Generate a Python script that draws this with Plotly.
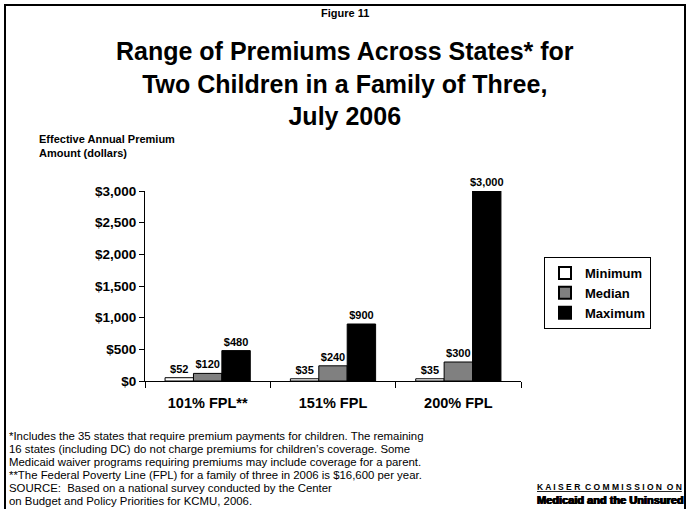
import plotly.graph_objects as go

# Premium levels by income (percent of the Federal Poverty Line)
categories = ["101% FPL**", "151% FPL", "200% FPL"]
minimum = [52, 35, 35]
median = [120, 240, 300]
maximum = [480, 900, 3000]
y_ticks = [0, 500, 1000, 1500, 2000, 2500, 3000]
y_tick_labels = ["$0", "$500", "$1,000", "$1,500", "$2,000", "$2,500", "$3,000"]

footnote_lines = [
    "*Includes the 35 states that require premium payments for children. The remaining",
    "16 states (including DC) do not charge premiums for children\u2019s coverage. Some",
    "Medicaid waiver programs requiring premiums may include coverage for a parent.",
    "**The Federal Poverty Line (FPL) for a family of three in 2006 is $16,600 per year.",
    "SOURCE:  Based on a national survey conducted by the Center",
    "on Budget and Policy Priorities for KCMU, 2006.",
]

W, H = 691, 509
ML, MR, MT, MB = 145, 170, 191, 128
PW, PH = W - ML - MR, H - MT - MB


def px_x(x):
    return (x - ML) / PW


def px_y(y):
    return (H - MB - y) / PH


SANS = "Liberation Sans, Arial, sans-serif"

series = [
    ("Minimum", minimum, "#ffffff"),
    ("Median", median, "#808080"),
    ("Maximum", maximum, "#000000"),
]

fig = go.Figure()
for name, vals, color in series:
    fig.add_trace(go.Bar(
        name=name,
        x=categories,
        y=vals,
        marker=dict(color=color, line=dict(color="#000000", width=1)),
        text=["$" + format(v, ",") for v in vals],
        textposition="outside",
        constraintext="none",
        textfont=dict(family=SANS, size=11, color="#000000", weight="bold"),
        cliponaxis=False,
    ))

fig.update_layout(
    width=W, height=H, autosize=False,
    margin=dict(l=ML, r=MR, t=MT, b=MB),
    paper_bgcolor="#ffffff", plot_bgcolor="#ffffff",
    barmode="group", bargap=0.32, bargroupgap=0,
    showlegend=True,
    legend=dict(
        x=px_x(544), y=px_y(257), xanchor="left", yanchor="top",
        bordercolor="#000000", borderwidth=1, bgcolor="#ffffff",
        font=dict(family=SANS, size=13, color="#000000", weight="bold"),
        itemsizing="constant", tracegroupgap=0, itemwidth=30,
    ),
    xaxis=dict(
        showline=True, linecolor="#000000", linewidth=1,
        ticks="outside", ticklen=6, tickcolor="#000000", tickson="boundaries",
        tickfont=dict(family=SANS, size=14.5, color="#000000", weight="bold"),
        ticklabelstandoff=9,
        showgrid=False,
    ),
    yaxis=dict(
        range=[0, 3000], tickvals=y_ticks, ticktext=y_tick_labels,
        showline=True, linecolor="#000000", linewidth=1,
        ticks="outside", ticklen=5, tickcolor="#000000",
        tickfont=dict(family=SANS, size=13.5, color="#000000", weight="bold"),
        showgrid=False, zeroline=False,
    ),
)

annotations = [
    dict(text="<b>Figure 11</b>", x=px_x(345), y=px_y(13), size=11, family=SANS, xanchor="center"),
    dict(text="<b>Range of Premiums Across States* for<br>Two Children in a Family of Three,<br>July 2006</b>",
         x=px_x(345), y=px_y(83), size=25, family=SANS, xanchor="center"),
    dict(text="<b>Effective Annual Premium<br>Amount (dollars)</b>",
         x=px_x(37), y=px_y(146), size=11, family=SANS, xanchor="left"),
    dict(text="<b><u>K A I S E R  C O M M I S S I O N  O N</u></b>",
         x=px_x(609), y=px_y(487), size=8.5, family=SANS, xanchor="center"),
    dict(text="<b>Medicaid and the Uninsured</b>",
         x=px_x(610), y=px_y(500), size=11, family=SANS, xanchor="center",
         shadow="0.6px 0 0 #000, -0.6px 0 0 #000, 0 0.4px 0 #000"),
]
for i, line in enumerate(footnote_lines):
    annotations.append(dict(text=line, x=px_x(7), y=px_y(436 + 13 * i), size=11.4,
                            family=SANS, xanchor="left"))

for a in annotations:
    fig.add_annotation(
        text=a["text"], xref="paper", yref="paper", x=a["x"], y=a["y"],
        xanchor=a["xanchor"], yanchor="middle", showarrow=False,
        align="left" if a["xanchor"] == "left" else "center",
        font=dict(family=a["family"], size=a["size"], color="#000000",
                  shadow=a.get("shadow", "none")),
    )

# Outer frame around the figure
fig.add_shape(type="rect", xref="paper", yref="paper",
              x0=px_x(5), x1=px_x(685), y0=px_y(520), y1=px_y(5),
              line=dict(color="#000000", width=2), fillcolor="rgba(0,0,0,0)", layer="above")

fig.write_html("out.html")
